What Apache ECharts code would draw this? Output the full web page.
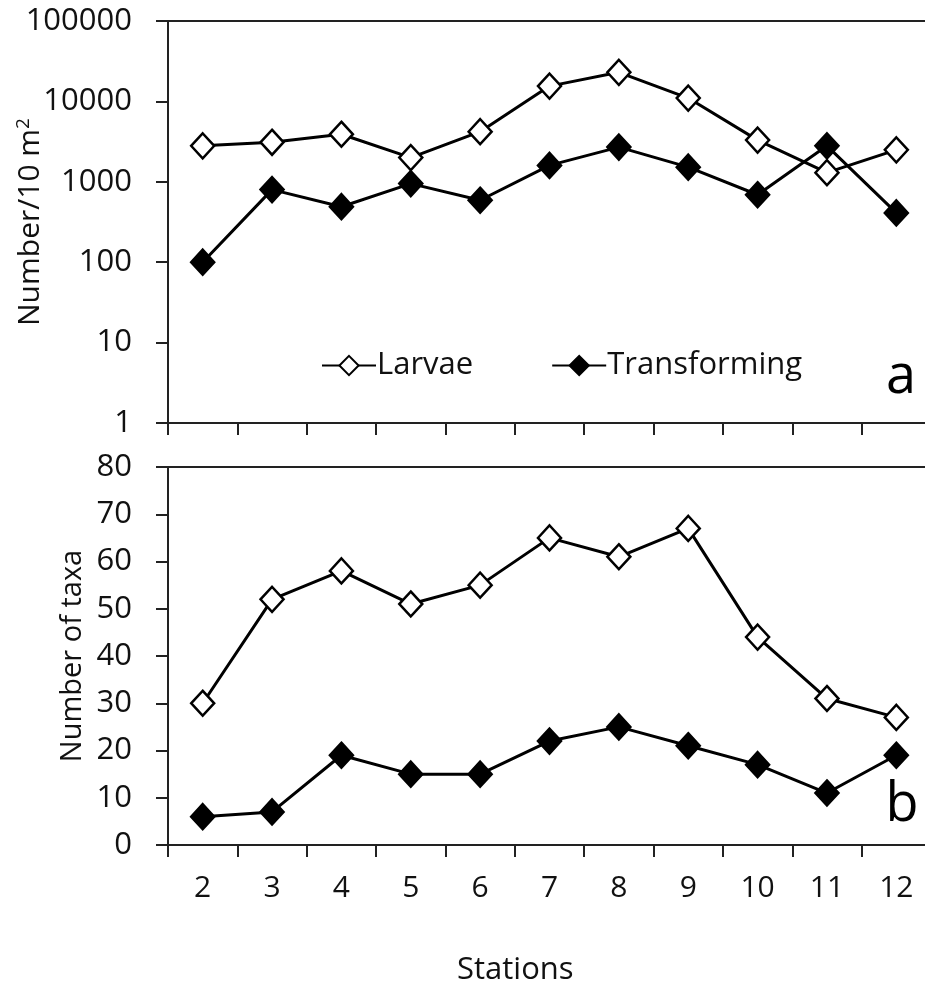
<!DOCTYPE html>
<html>
<head>
<meta charset="utf-8">
<script src="https://cdn.jsdelivr.net/npm/echarts@6/dist/echarts.min.js"></script>
<style>
html,body{margin:0;padding:0;background:#fff;}
#chart{width:925px;height:990px;}
</style>
</head>
<body>
<div id="chart"></div>
<script>
const stations = ['2','3','4','5','6','7','8','9','10','11','12'];
const densityLarvae = [2800, 3100, 3900, 2000, 4200, 15500, 23000, 11000, 3300, 1300, 2500];
const densityTransforming = [100, 800, 490, 950, 590, 1600, 2700, 1520, 690, 2800, 410];
const taxaLarvae = [30, 52, 58, 51, 55, 65, 61, 67, 44, 31, 27];
const taxaTransforming = [6, 7, 19, 15, 15, 22, 25, 21, 17, 11, 19];
const logTicks = [1, 10, 100, 1000, 10000, 100000];

const FONT = '"Open Sans", "Noto Sans", sans-serif';
const TXT = '#111';
const chart = echarts.init(document.getElementById('chart'), null, {renderer: 'canvas'});

const lineStyle = {color: '#000', width: 3};
function mkSeries(name, data, xi, yi, filled) {
  return {
    name: name, type: 'line', xAxisIndex: xi, yAxisIndex: yi, data: data,
    symbol: 'diamond', symbolSize: [23, 25],
    lineStyle: lineStyle,
    itemStyle: {color: filled ? '#000' : '#fff', borderColor: '#000', borderWidth: 2.5},
    emphasis: {disabled: true},
    animation: false, z: filled ? 3 : 4
  };
}

const commonX = {
  type: 'category', data: stations, boundaryGap: true,
  axisLine: {show: true, lineStyle: {color: '#222', width: 2}},
  axisTick: {show: true, interval: 0, inside: false, length: 12, lineStyle: {color: '#222', width: 2}},
  splitLine: {show: false}
};

chart.setOption({
  backgroundColor: '#fff',
  animation: false,
  textStyle: {fontFamily: FONT},
  grid: [
    {left: 168, top: 21, width: 763, height: 402, outerBoundsMode: 'none', containLabel: false, show: true, borderColor: '#222', borderWidth: 2, backgroundColor: 'transparent'},
    {left: 168, top: 467, width: 763, height: 378, outerBoundsMode: 'none', containLabel: false, show: true, borderColor: '#222', borderWidth: 2, backgroundColor: 'transparent'}
  ],
  legend: {
    data: ['Larvae', 'Transforming'],
    left: 316, top: 345,
    itemWidth: 54, itemHeight: 24, itemGap: 78,
    textStyle: {fontFamily: FONT, fontSize: 31, color: TXT, padding: [0, 0, 0, -4]},
    selectedMode: false
  },
  xAxis: [
    Object.assign({}, commonX, {gridIndex: 0, axisLabel: {show: false}}),
    Object.assign({}, commonX, {gridIndex: 1, axisLabel: {show: true, interval: 0, margin: 28, fontFamily: FONT, fontSize: 30, color: TXT}})
  ],
  yAxis: [
    {
      type: 'log', gridIndex: 0, logBase: 10, min: logTicks[0], max: logTicks[logTicks.length - 1],
      interval: 1,
      axisLine: {show: true, lineStyle: {color: '#222', width: 2}},
      axisTick: {show: true, length: 12, lineStyle: {color: '#222', width: 2}},
      splitLine: {show: false},
      axisLabel: {margin: 36, fontFamily: FONT, fontSize: 31, color: TXT, formatter: v => String(Math.round(v))},
      name: 'Number/10 m{sup|2}', nameLocation: 'middle', nameGap: 121, nameRotate: 90, nameMoveOverlap: false,
      nameTextStyle: {fontFamily: FONT, fontSize: 30, color: TXT, rich: {sup: {fontFamily: FONT, fontSize: 19, color: TXT, verticalAlign: 'top', padding: [0, 0, 14, 0]}}}
    },
    {
      type: 'value', gridIndex: 1, min: 0, max: 80, interval: 10,
      axisLine: {show: true, lineStyle: {color: '#222', width: 2}},
      axisTick: {show: true, length: 12, lineStyle: {color: '#222', width: 2}},
      splitLine: {show: false},
      axisLabel: {margin: 36, fontFamily: FONT, fontSize: 31, color: TXT},
      name: 'Number of taxa', nameLocation: 'middle', nameGap: 81, nameRotate: 90, nameMoveOverlap: false,
      nameTextStyle: {fontFamily: FONT, fontSize: 29, color: TXT}
    }
  ],
  series: [
    mkSeries('Larvae', densityLarvae, 0, 0, false),
    mkSeries('Transforming', densityTransforming, 0, 0, true),
    mkSeries('Larvae', taxaLarvae, 1, 1, false),
    mkSeries('Transforming', taxaTransforming, 1, 1, true)
  ],
  graphic: [
    {type: 'text', left: 457, top: 955, style: {text: 'Stations', font: '31px ' + FONT, fill: TXT}},
    {type: 'text', x: 901, y: 378, style: {text: 'a', font: '54px ' + FONT, fill: '#000', textAlign: 'center', textVerticalAlign: 'middle'}},
    {type: 'text', x: 902, y: 806, style: {text: 'b', font: '54px ' + FONT, fill: '#000', textAlign: 'center', textVerticalAlign: 'middle'}}
  ]
});
</script>
</body>
</html>
